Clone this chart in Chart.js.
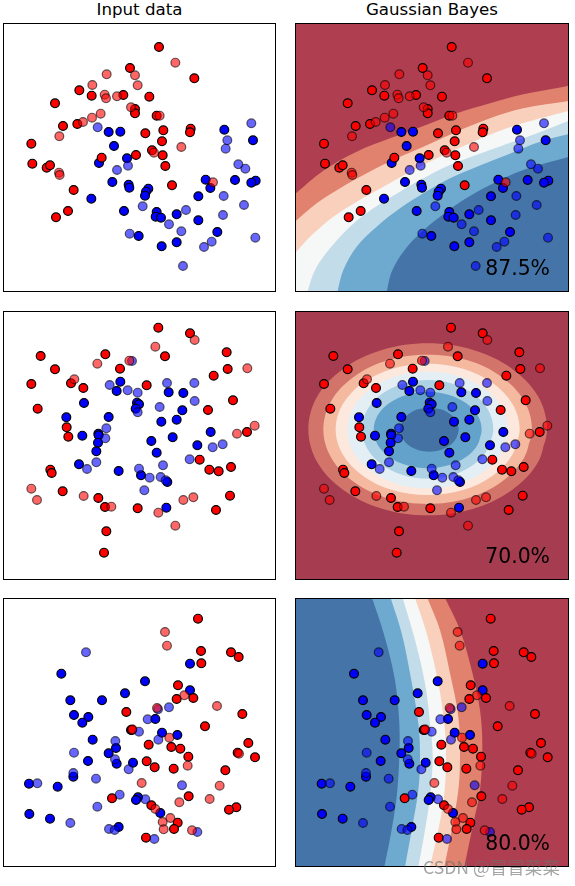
<!DOCTYPE html>
<html>
<head>
<meta charset="utf-8">
<script src="https://cdn.jsdelivr.net/npm/chart.js@4"></script>
<style>
  html, body { margin: 0; padding: 0; background: #fff; }
  body { position: relative; width: 575px; height: 886px; overflow: hidden; font-family: "DejaVu Sans", sans-serif; }
  .panel { position: absolute; }
  .panel canvas { position: absolute; left: 0; top: 0; }
  .frame { position: absolute; inset: 0; border: 1px solid #000; box-sizing: border-box; }
  .title { position: absolute; top: 0; text-align: center; font-size: 16.67px; line-height: 20px; color: #000; }
  .score { position: absolute; right: 19px; font-size: 20.4px; line-height: 24px; color: #000; }
  .mark { position: absolute; left: 423px; top: 855px; font-family: "Noto Sans CJK SC", sans-serif; font-size: 17.6px; line-height: 24px; color: rgba(110,110,110,0.62); white-space: nowrap; }
</style>
</head>
<body>
<div class="title" style="left:3px;width:273px">Input data</div>
<div class="title" style="left:295px;width:274px">Gaussian Bayes</div>
<div id="charts"></div>
<div class="mark">CSDN @冒冒菜菜</div>

<script>
// first row - moons
const moonsTrainRed = [[477,141],[390,204],[583,235],[238,271],[275,287],[370,285],[448,290],[165,310],[405,327],[405,340],[470,347],[189,378],[232,372],[572,386],[570,397],[490,391],[436,400],[94,431],[486,424],[305,473],[408,465],[456,451],[488,466],[97,491],[140,503],[150,496],[496,498],[516,556],[221,570],[204,633],[168,652]];
const moonsTestRed = [[526,188],[320,223],[405,226],[277,255],[413,256],[314,284],[318,295],[351,289],[393,322],[479,347],[302,341],[276,353],[249,366],[178,409],[544,441],[462,458],[177,518],[179,525],[639,547]];
const moonsTrainBlue = [[326,396],[361,395],[673,389],[759,421],[342,438],[381,475],[297,489],[617,539],[705,540],[767,542],[754,548],[631,564],[337,546],[386,554],[388,563],[445,566],[438,575],[435,587],[595,589],[274,596],[372,633],[470,636],[467,650],[483,653],[530,643],[595,661],[652,696],[416,708],[530,727],[485,739]];
const moonsTestBlue = [[293,382],[754,370],[682,421],[677,446],[715,493],[736,506],[384,497],[351,510],[671,588],[732,615],[428,619],[558,630],[669,645],[507,673],[544,694],[389,701],[635,725],[612,741],[766,713],[549,798]];

// second row - circles
const circlesTrainRed = [[475,83],[570,100],[680,157],[122,168],[316,163],[495,169],[165,208],[360,206],[683,207],[641,227],[94,252],[213,250],[250,264],[440,256],[699,301],[113,326],[624,330],[200,382],[205,410],[741,396],[599,479],[151,509],[155,519],[628,509],[656,514],[693,501],[188,574],[690,587],[295,594],[315,621],[413,625],[648,630],[319,694],[312,758]];
const circlesTestRed = [[584,120],[466,140],[292,191],[388,182],[742,205],[223,238],[764,377],[711,401],[94,566],[111,600],[251,588],[334,620],[550,600],[580,592],[475,638],[526,677]];
const circlesTrainBlue = [[361,245],[350,273],[506,277],[550,279],[252,309],[411,308],[417,313],[407,326],[547,331],[199,352],[326,351],[530,359],[484,365],[632,396],[518,412],[247,407],[295,401],[296,406],[454,423],[294,428],[592,436],[289,454],[470,458],[237,493],[356,513],[423,526],[502,546],[499,623]];
const circlesTestBlue = [[396,183],[329,255],[383,271],[413,278],[501,249],[583,249],[584,303],[479,321],[413,337],[319,385],[316,415],[668,433],[638,442],[569,478],[289,487],[261,507],[489,496],[417,506],[449,533],[482,531],[497,541],[433,571]];

// third row - linearly separable
const linearTrainRed = [[594,86],[603,183],[693,187],[716,201],[604,220],[534,286],[580,324],[530,327],[379,366],[727,372],[615,409],[393,420],[396,420],[446,464],[514,471],[541,476],[745,459],[713,488],[765,502],[565,500],[440,514],[464,532],[521,536],[676,541],[566,619],[336,625],[454,646],[709,652],[687,659],[533,698],[522,717],[438,743]];
const linearTestRed = [[495,126],[501,167],[553,316],[651,348],[471,354],[397,418],[508,443],[717,491],[563,527],[425,579],[659,587],[629,627],[538,637],[466,657],[511,684],[488,696],[491,718],[576,721]];
const linearTrainBlue = [[184,251],[570,221],[435,274],[570,301],[375,310],[211,331],[306,331],[222,375],[265,381],[247,398],[466,387],[486,428],[532,435],[278,449],[348,474],[326,490],[264,513],[350,521],[399,518],[220,560],[87,581],[173,590],[414,622],[408,630],[481,669],[88,672],[150,686],[356,711]];
const linearTestBlue = [[258,187],[507,352],[474,358],[443,388],[417,425],[475,449],[346,453],[222,488],[345,508],[386,538],[220,549],[288,566],[112,580],[546,586],[359,614],[436,628],[292,650],[211,699],[327,717],[344,720],[592,726],[463,747]];

// decision regions, outermost first
const moonsRegions = [
  [[7,69],[829,69],[829,876],[7,876]],
  [[7,582],[92,512],[192,455],[292,415],[392,378],[492,340],[592,310],[692,283],[829,257],[829,876],[7,876]],
  [[7,665],[72,610],[142,565],[222,520],[312,475],[392,440],[492,395],[592,355],[692,325],[829,303],[829,876],[7,876]],
  [[7,760],[52,710],[122,650],[192,605],[272,560],[352,515],[442,470],[542,425],[642,385],[742,355],[829,332],[829,876],[7,876]],
  [[44,876],[67,810],[112,745],[172,680],[242,625],[322,575],[392,535],[472,495],[592,450],[692,415],[829,362],[829,876]],
  [[134,876],[152,810],[192,740],[252,680],[322,625],[392,580],[462,540],[542,505],[642,465],[742,425],[829,402],[829,876]],
  [[282,876],[297,815],[332,755],[382,700],[442,650],[512,600],[592,555],[692,510],[829,470],[829,876]],
];
const moonsColors = ["#af3e50", "#e0826e", "#f9d0bc", "#f6f7f7", "#c3dcea", "#6eaacf", "#4575a8"];

const circlesRegions = [
  [[7,33],[829,33],[829,840],[7,840]],
  [[763,388],[736,487],[658,570],[542,626],[405,646],[268,626],[152,570],[74,487],[47,388],[74,289],[152,206],[268,150],[405,130],[542,150],[658,206],[736,289]],
  [[718,388],[694,474],[626,546],[525,595],[405,612],[285,595],[184,546],[116,474],[92,388],[116,302],[184,230],[285,181],[405,164],[525,181],[626,230],[694,302]],
  [[681,388],[660,463],[600,527],[511,570],[405,585],[299,570],[210,527],[150,463],[129,388],[150,313],[210,249],[299,206],[405,191],[511,206],[600,249],[660,313]],
  [[646,390],[628,457],[575,514],[497,552],[405,565],[313,552],[235,514],[182,457],[164,390],[182,323],[235,266],[313,228],[405,215],[497,228],[575,266],[628,323]],
  [[602,388],[587,445],[544,493],[480,525],[405,536],[330,525],[266,493],[223,445],[208,388],[223,331],[266,283],[330,251],[405,240],[480,251],[544,283],[587,331]],
  [[567,390],[555,434],[520,471],[467,496],[405,505],[343,496],[290,471],[255,434],[243,390],[255,346],[290,309],[343,284],[405,275],[467,284],[520,309],[555,346]],
  [[498,389],[491,414],[472,436],[444,450],[410,455],[376,450],[348,436],[329,414],[322,389],[329,364],[348,342],[376,328],[410,323],[444,328],[472,342],[491,364]],
];
const circlesColors = ["#a63c50", "#d3746a", "#f5b9a0", "#fde8de", "#e3eff5", "#aed2e5", "#63a2cb", "#4472a5"];

const linearRegions = [
  [[7,24],[829,24],[829,831],[7,831]],
  [[457,24],[502,120],[537,240],[562,360],[569,470],[562,600],[542,700],[515,831],[7,831],[7,24]],
  [[404,24],[442,120],[472,250],[497,380],[502,500],[497,600],[477,720],[455,831],[7,831],[7,24]],
  [[367,24],[402,130],[437,280],[457,420],[460,520],[454,620],[437,720],[412,831],[7,831],[7,24]],
  [[330,24],[367,150],[397,280],[412,400],[420,500],[412,620],[397,720],[377,831],[7,831],[7,24]],
  [[294,24],[327,130],[352,250],[377,400],[382,500],[377,600],[357,720],[337,831],[7,831],[7,24]],
  [[238,24],[267,110],[292,200],[310,290],[320,400],[320,500],[312,620],[295,730],[275,831],[7,831],[7,24]],
];
const linearColors = ["#af3e50", "#e0826e", "#f9d0bc", "#f6f7f7", "#c3dcea", "#6eaacf", "#4575a8"];

const scores = ["87.5%", "70.0%", "80.0%"];

const rows = [
  { top: 23, yMin: 69, trainRed: moonsTrainRed, testRed: moonsTestRed, trainBlue: moonsTrainBlue, testBlue: moonsTestBlue, regions: moonsRegions, colors: moonsColors, scoreTop: 256 },
  { top: 311, yMin: 33, trainRed: circlesTrainRed, testRed: circlesTestRed, trainBlue: circlesTrainBlue, testBlue: circlesTestBlue, regions: circlesRegions, colors: circlesColors, scoreTop: 544 },
  { top: 598, yMin: 24, trainRed: linearTrainRed, testRed: linearTestRed, trainBlue: linearTrainBlue, testBlue: linearTestBlue, regions: linearRegions, colors: linearColors, scoreTop: 831 },
];

function pointSet(data, color, border) {
  return {
    data: data,
    backgroundColor: color,
    borderColor: border,
    borderWidth: 1.2,
    pointRadius: 4.4,
    pointHoverRadius: 4.4,
  };
}

// the first dataset is painted last, so the points come before the regions
function markers(row) {
  return [
    pointSet(row.testRed, "rgba(255,0,0,0.6)", "rgba(0,0,0,0.6)"),
    pointSet(row.testBlue, "rgba(0,0,255,0.6)", "rgba(0,0,0,0.6)"),
    pointSet(row.trainRed, "#ff0000", "#000000"),
    pointSet(row.trainBlue, "#0000ff", "#000000"),
  ];
}

// doubled points keep the panel corners sharp under the curve tension,
// rings without corners get their first points again so the join is smooth
function regionPath(region, row) {
  const yMax = row.yMin + 269 * 3;
  const isCorner = (p) => p && (p[0] === 7 || p[0] === 829) && (p[1] === row.yMin || p[1] === yMax);
  if (!region.some(isCorner)) return region.concat([region[0], region[1]]);
  return region.flatMap((p, i) => (isCorner(p) || isCorner(region[i + 1]) ? [p, p] : [p]));
}

function regionSets(row) {
  return row.regions
    .map((region, i) => ({
      data: regionPath(region, row),
      showLine: true,
      fill: "shape",
      tension: 0.35,
      backgroundColor: row.colors[i],
      borderWidth: 0,
      pointRadius: 0,
      pointHoverRadius: 0,
    }))
    .reverse();
}

function addPanel(row, left, width, xMin, datasets, score) {
  const holder = document.createElement("div");
  holder.className = "panel";
  holder.style.cssText = `left:${left}px;top:${row.top}px;width:${width}px;height:269px`;
  const canvas = document.createElement("canvas");
  canvas.width = width;
  canvas.height = 269;
  canvas.style.width = width + "px";
  canvas.style.height = "269px";
  holder.appendChild(canvas);
  const frame = document.createElement("div");
  frame.className = "frame";
  holder.appendChild(frame);
  document.getElementById("charts").appendChild(holder);

  new Chart(canvas, {
    type: "scatter",
    data: { datasets: datasets },
    options: {
      responsive: false,
      animation: false,
      layout: { padding: 0, autoPadding: false },
      events: [],
      scales: {
        x: { type: "linear", display: false, min: xMin, max: xMin + width * 3 },
        y: { type: "linear", display: false, reverse: true, min: row.yMin, max: row.yMin + 269 * 3 },
      },
      plugins: {
        legend: { display: false },
        title: { display: false },
        tooltip: { enabled: false },
      },
    },
  });

  if (score) {
    const label = document.createElement("div");
    label.className = "score";
    label.textContent = score;
    label.style.top = row.scoreTop - row.top + "px";
    holder.appendChild(label);
  }
}

rows.forEach((row, i) => {
  addPanel(row, 3, 273, 9, markers(row), null);
  addPanel(row, 295, 274, 7, markers(row).concat(regionSets(row)), scores[i]);
});
</script>
</body>
</html>
